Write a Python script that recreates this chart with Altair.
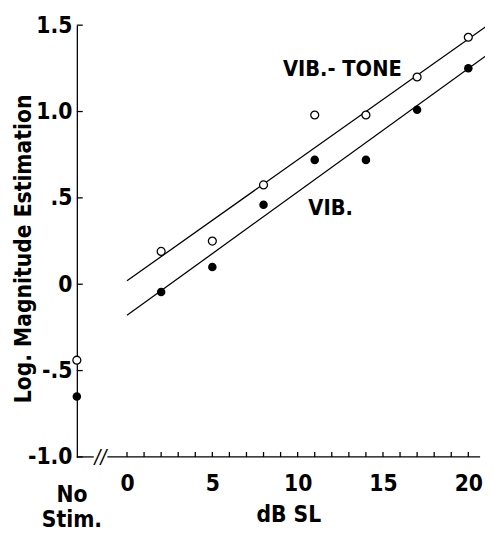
import altair as alt
import pandas as pd

# ---- data ----
NOSTIM_X = -2.94            # position of the "No Stim." condition (on the y axis)
DB_SL = [2, 5, 8, 11, 14, 17, 20]
VIB_TONE = [0.19, 0.25, 0.575, 0.98, 0.98, 1.20, 1.43]
VIB = [-0.045, 0.10, 0.46, 0.72, 0.72, 1.01, 1.25]
VIB_TONE_NOSTIM = -0.44
VIB_NOSTIM = -0.65

# fitted lines (end points)
LINE_X = [0, 21]
VIB_TONE_LINE = [0.02, 1.49]
VIB_LINE = [-0.18, 1.32]

Y_TICKS = [-1.0, -0.5, 0.0, 0.5, 1.0, 1.5]
Y_LABELS = ["-1.0", "-.5", "0", ".5", "1.0", "1.5"]
X_LABEL_TICKS = [0, 5, 10, 15, 20]
X_MINOR_TICKS = list(range(0, 21))
X_DOMAIN = [NOSTIM_X, 20.69]
Y_DOMAIN = [-1.0, 1.5]
AXIS_SEGMENTS = [(NOSTIM_X, -1.95), (-1.15, 20.69)]
BREAK_X = -1.55

SERIES_LABELS = [("VIB.- TONE", 12.62, 1.247), ("VIB.", 11.93, 0.438)]
NOSTIM_LABEL = "No\nStim."
Y_TITLE = "Log. Magnitude Estimation"
X_TITLE = "dB SL"

FONT = "'DejaVu Sans Condensed', 'Liberation Sans Narrow', 'Roboto', sans-serif"
W, H = 410, 439

# ---- tables ----
pts_open = pd.DataFrame({"x": [NOSTIM_X] + DB_SL, "y": [VIB_TONE_NOSTIM] + VIB_TONE})
pts_fill = pd.DataFrame({"x": [NOSTIM_X] + DB_SL, "y": [VIB_NOSTIM] + VIB})
lines = pd.DataFrame({
    "x": LINE_X + LINE_X,
    "y": VIB_TONE_LINE + VIB_LINE,
    "s": ["tone"] * 2 + ["vib"] * 2,
})
seg = pd.DataFrame({"x": [a for a, b in AXIS_SEGMENTS], "x2": [b for a, b in AXIS_SEGMENTS],
                    "y": [Y_DOMAIN[0]] * len(AXIS_SEGMENTS)})
xt = pd.DataFrame({"x": X_MINOR_TICKS})
yt = pd.DataFrame({"y": Y_TICKS})
lab = pd.DataFrame({"t": [s[0] for s in SERIES_LABELS], "x": [s[1] for s in SERIES_LABELS],
                    "y": [s[2] for s in SERIES_LABELS]})
brk = pd.DataFrame({"x": [BREAK_X], "y": [Y_DOMAIN[0]], "t": ["//"]})
nost = pd.DataFrame({"x": [NOSTIM_X], "t": [NOSTIM_LABEL]})

y_expr = " : ".join(
    f"abs(datum.value - ({v})) < 1e-6 ? '{l}'" for v, l in zip(Y_TICKS, Y_LABELS)
) + " : ''"

xs = alt.Scale(domain=X_DOMAIN, nice=False, zero=False)
ys = alt.Scale(domain=Y_DOMAIN, nice=False, zero=False)

x_axis = alt.Axis(values=X_LABEL_TICKS, ticks=False, domain=False, grid=False,
                  labelFont=FONT, labelFontSize=23, labelFontWeight="bold", labelColor="black",
                  labelPadding=16, labelFlush=False,
                  title=X_TITLE, titleFont=FONT, titleFontSize=23, titleFontWeight="bold",
                  titleColor="black", titleX=215, titleY=59, titleBaseline="middle",
                  titleAlign="center")
y_axis = alt.Axis(values=Y_TICKS, labelExpr=y_expr, ticks=False, grid=False,
                  domainColor="black", domainWidth=1.3,
                  labelFont=FONT, labelFontSize=23, labelFontWeight="bold", labelColor="black",
                  labelPadding=5, labelFlush=False,
                  title=Y_TITLE, titleFont=FONT, titleFontSize=23, titleFontWeight="bold",
                  titleColor="black", titleX=-54, titleY=227, titleAngle=270,
                  titleAlign="center", titleBaseline="middle")

base_axes = alt.Chart(pts_open).mark_point(opacity=0).encode(
    x=alt.X("x:Q", scale=xs, axis=x_axis),
    y=alt.Y("y:Q", scale=ys, axis=y_axis),
)

line_layer = alt.Chart(lines).mark_line(color="black", strokeWidth=1.3).encode(
    x=alt.X("x:Q", scale=xs), y=alt.Y("y:Q", scale=ys), detail="s:N")

fill_layer = alt.Chart(pts_fill).mark_circle(color="black", size=75, opacity=1).encode(
    x=alt.X("x:Q", scale=xs), y=alt.Y("y:Q", scale=ys))

open_layer = alt.Chart(pts_open).mark_circle(fill="white", stroke="black", strokeWidth=1.3,
                                             size=65, opacity=1).encode(
    x=alt.X("x:Q", scale=xs), y=alt.Y("y:Q", scale=ys))

seg_layer = alt.Chart(seg).mark_rule(color="black", strokeWidth=1.3).encode(
    x=alt.X("x:Q", scale=xs), x2="x2:Q", y=alt.Y("y:Q", scale=ys))

xtick_layer = alt.Chart(xt).mark_rule(color="black", strokeWidth=1.3).encode(
    x=alt.X("x:Q", scale=xs), y=alt.value(H - 5), y2=alt.value(H))

ytick_layer = alt.Chart(yt).mark_rule(color="black", strokeWidth=1.3).encode(
    y=alt.Y("y:Q", scale=ys), x=alt.value(0), x2=alt.value(6))

brk_layer = alt.Chart(brk).mark_text(font=FONT, fontSize=20, fontStyle="italic",
                                     color="black", baseline="middle", align="center").encode(
    x=alt.X("x:Q", scale=xs), y=alt.Y("y:Q", scale=ys), text="t:N")

lab_layer = alt.Chart(lab).mark_text(font=FONT, fontSize=22, fontWeight="bold", color="black",
                                     baseline="middle", align="center").encode(
    x=alt.X("x:Q", scale=xs), y=alt.Y("y:Q", scale=ys), text="t:N")

nost_layer = alt.Chart(nost).mark_text(font=FONT, fontSize=23, fontWeight="bold", color="black",
                                       baseline="middle", align="center", lineBreak="\n",
                                       lineHeight=25, dx=-5).encode(
    x=alt.X("x:Q", scale=xs), y=alt.value(H + 39), text="t:N")

chart = alt.layer(
    base_axes, line_layer, fill_layer, open_layer, seg_layer, xtick_layer, ytick_layer,
    brk_layer, lab_layer, nost_layer
).properties(
    width=W, height=H,
    autosize=alt.AutoSizeParams(type="none"),
    padding={"left": 70, "top": 13, "right": 5, "bottom": 80},
    background="white",
).configure_view(stroke=None)

chart.save("out.html", embed_options={"renderer": "svg", "actions": False})
